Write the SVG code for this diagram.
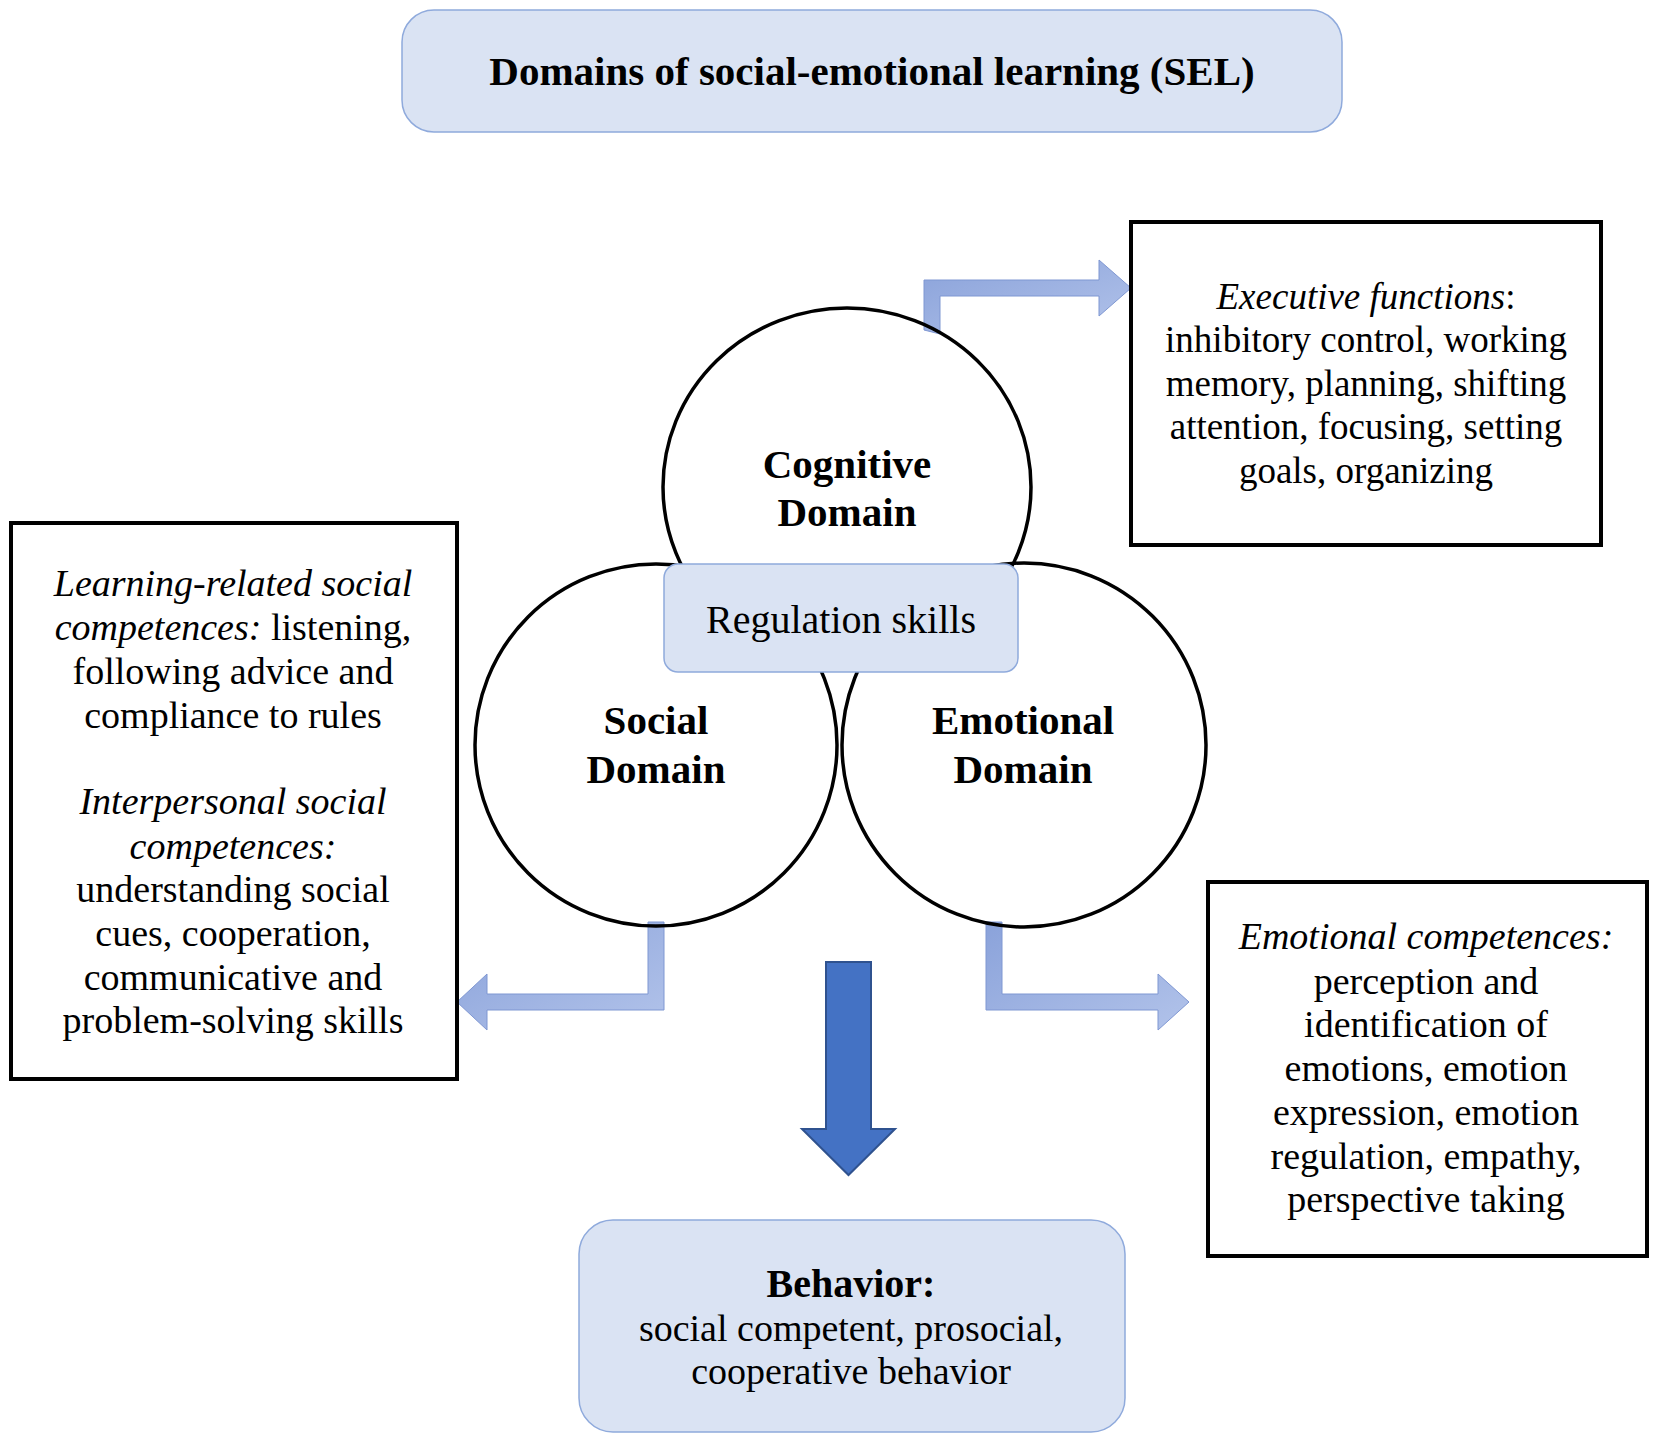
<svg xmlns="http://www.w3.org/2000/svg" width="1654" height="1439" viewBox="0 0 1654 1439">
<defs>
<linearGradient id="lg" x1="0" y1="0" x2="1" y2="1">
<stop offset="0" stop-color="#8aa2da"/>
<stop offset="1" stop-color="#b2c3ea"/>
</linearGradient>
</defs>
<style>
.t{font-family:"Liberation Serif","Times New Roman",serif;fill:#000;text-anchor:middle}
.b{font-weight:bold}
.i{font-style:italic}
.blue{fill:#dae3f3;stroke:#8faadc;stroke-width:1.5}
.box{fill:#fff;stroke:#000;stroke-width:4}
.circ{fill:none;stroke:#000;stroke-width:3.5}
.la{fill:url(#lg);stroke:#7f97d2;stroke-width:1}
</style>
<rect width="1654" height="1439" fill="#fff"/>

<g id="connectors">
<path class="la" d="M924,330 V280 H1099 V260 L1131,288 L1099,316 V296 H940 V334 Z"/>
<path class="la" d="M664,922 V1010 H487 V1030 L457,1002 L487,974 V994 H648 V922 Z"/>
<path class="la" d="M986,922 V1010 H1158 V1030 L1189,1002 L1158,974 V994 H1002 V922 Z"/>
<path d="M826,962 H871 V1129 H895 L848.5,1175 L802,1129 H826 Z" fill="#4472c4" stroke="#2f528f" stroke-width="2"/>
</g>

<g id="title">
<rect class="blue" x="402" y="10" width="940" height="122" rx="32"/>
<text class="t b" x="872" y="85" font-size="41">Domains of social-emotional learning (SEL)</text>
</g>

<g id="cognitive">
<ellipse class="circ" cx="847" cy="487" rx="184" ry="179"/>
<text class="t b" x="847" y="478" font-size="41">Cognitive</text>
<text class="t b" x="847" y="526" font-size="41">Domain</text>
</g>

<g id="social">
<circle class="circ" cx="656" cy="745" r="181"/>
<text class="t b" x="656" y="734" font-size="41">Social</text>
<text class="t b" x="656" y="783" font-size="41">Domain</text>
</g>

<g id="emotional">
<circle class="circ" cx="1024" cy="745" r="182"/>
<text class="t b" x="1023" y="734" font-size="41">Emotional</text>
<text class="t b" x="1023" y="783" font-size="41">Domain</text>
</g>

<g id="regulation">
<rect class="blue" x="664" y="564" width="354" height="108" rx="14"/>
<text class="t" x="841" y="633" font-size="40">Regulation skills</text>
</g>

<g id="executive">
<rect class="box" x="1131" y="222" width="470" height="323"/>
<text class="t" x="1366" y="309" font-size="37"><tspan class="i">Executive functions</tspan>:</text>
<text class="t" x="1366" y="352" font-size="37">inhibitory control, working</text>
<text class="t" x="1366" y="396" font-size="37">memory, planning, shifting</text>
<text class="t" x="1366" y="439" font-size="37">attention, focusing, setting</text>
<text class="t" x="1366" y="483" font-size="37">goals, organizing</text>
</g>

<g id="social-competences">
<rect class="box" x="11" y="523" width="446" height="556"/>
<text class="t i" x="233" y="596" font-size="38">Learning-related social</text>
<text class="t" x="233" y="640" font-size="38"><tspan class="i">competences:</tspan> listening,</text>
<text class="t" x="233" y="684" font-size="38">following advice and</text>
<text class="t" x="233" y="728" font-size="38">compliance to rules</text>
<text class="t i" x="233" y="814" font-size="38">Interpersonal social</text>
<text class="t i" x="233" y="859" font-size="38">competences:</text>
<text class="t" x="233" y="902" font-size="38">understanding social</text>
<text class="t" x="233" y="946" font-size="38">cues, cooperation,</text>
<text class="t" x="233" y="990" font-size="38">communicative and</text>
<text class="t" x="233" y="1033" font-size="38">problem-solving skills</text>
</g>

<g id="emotional-competences">
<rect class="box" x="1208" y="882" width="439" height="374"/>
<text class="t i" x="1426" y="949" font-size="38">Emotional competences:</text>
<text class="t" x="1426" y="994" font-size="38">perception and</text>
<text class="t" x="1426" y="1037" font-size="38">identification of</text>
<text class="t" x="1426" y="1081" font-size="38">emotions, emotion</text>
<text class="t" x="1426" y="1125" font-size="38">expression, emotion</text>
<text class="t" x="1426" y="1169" font-size="38">regulation, empathy,</text>
<text class="t" x="1426" y="1212" font-size="38">perspective taking</text>
</g>

<g id="behavior">
<rect class="blue" x="579" y="1220" width="546" height="212" rx="34"/>
<text class="t b" x="851" y="1297" font-size="40">Behavior:</text>
<text class="t" x="851" y="1341" font-size="38">social competent, prosocial,</text>
<text class="t" x="851" y="1384" font-size="38">cooperative behavior</text>
</g>
</svg>
